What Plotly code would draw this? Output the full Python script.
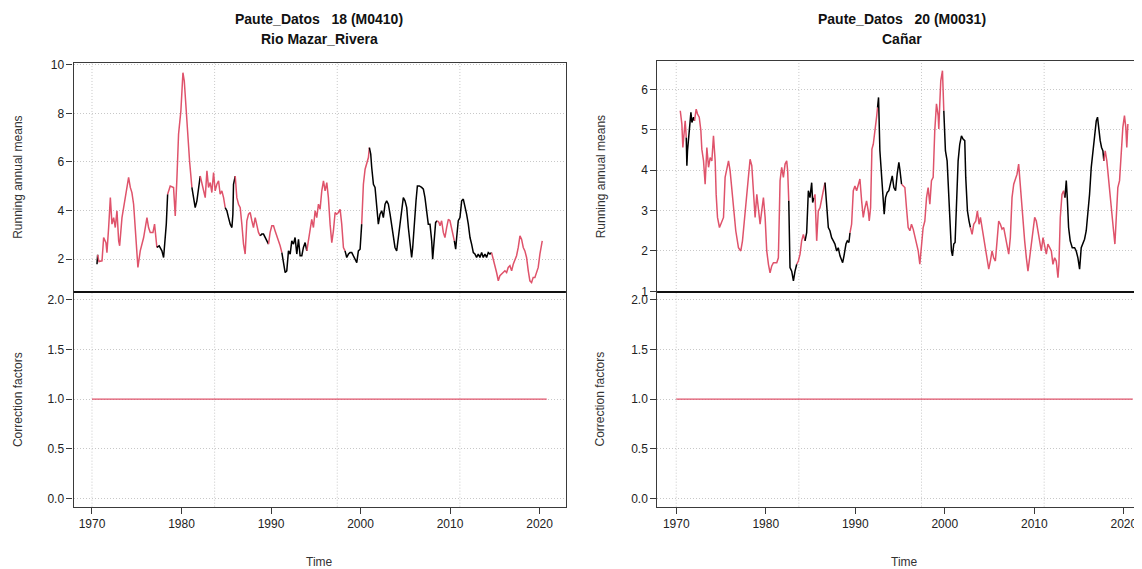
import plotly.graph_objects as go

# ---------------- data ----------------
left_years = [1970.56, 1970.63, 1970.78, 1971.12, 1971.30, 1971.56, 1971.67, 1971.86, 1972.05, 1972.23,
    1972.42, 1972.60, 1972.79, 1972.98, 1973.09, 1973.35, 1973.72, 1974.09, 1974.28, 1974.46,
    1974.65, 1974.84, 1975.13, 1975.39, 1975.77, 1976.14, 1976.32, 1976.51, 1976.81, 1976.99,
    1977.25, 1977.51, 1977.81, 1978.00, 1978.30, 1978.45, 1978.74, 1979.11, 1979.30, 1979.49,
    1979.67, 1979.93, 1980.16, 1980.31, 1980.53, 1980.68, 1980.90, 1981.16, 1981.35, 1981.53,
    1981.72, 1981.90, 1982.09, 1982.28, 1982.46, 1982.65, 1982.84, 1983.02, 1983.21, 1983.39,
    1983.58, 1983.76, 1983.95, 1984.14, 1984.32, 1984.51, 1984.70, 1984.88, 1985.07, 1985.25,
    1985.44, 1985.63, 1985.74, 1985.81, 1986.00, 1986.18, 1986.37, 1986.56, 1986.74, 1986.93,
    1987.11, 1987.30, 1987.49, 1987.67, 1987.86, 1988.04, 1988.23, 1988.42, 1988.60, 1988.79,
    1988.97, 1989.16, 1989.35, 1989.53, 1989.72, 1989.90, 1990.09, 1990.28, 1990.46, 1990.65,
    1990.83, 1991.02, 1991.21, 1991.39, 1991.58, 1991.76, 1991.95, 1992.14, 1992.32, 1992.51,
    1992.69, 1992.88, 1993.07, 1993.25, 1993.44, 1993.62, 1993.81, 1994.00, 1994.18, 1994.37,
    1994.55, 1994.74, 1994.93, 1995.11, 1995.30, 1995.48, 1995.67, 1995.86, 1996.04, 1996.23,
    1996.41, 1996.60, 1996.79, 1996.97, 1997.16, 1997.34, 1997.53, 1997.72, 1997.90, 1998.09,
    1998.27, 1998.46, 1998.65, 1998.83, 1999.02, 1999.20, 1999.39, 1999.58, 1999.76, 1999.95,
    2000.13, 2000.32, 2000.51, 2000.69, 2000.88, 2000.99, 2001.14, 2001.25, 2001.44, 2001.62,
    2001.81, 2001.99, 2002.18, 2002.37, 2002.55, 2002.74, 2002.92, 2003.11, 2003.30, 2003.48,
    2003.67, 2003.85, 2004.04, 2004.23, 2004.41, 2004.60, 2004.78, 2004.97, 2005.16, 2005.34,
    2005.53, 2005.71, 2005.83, 2005.97, 2006.20, 2006.35, 2006.57, 2006.83, 2007.02, 2007.20,
    2007.39, 2007.57, 2007.76, 2007.95, 2008.06, 2008.21, 2008.39, 2008.58, 2008.76, 2008.88,
    2009.06, 2009.25, 2009.43, 2009.62, 2009.81, 2009.99, 2010.18, 2010.36, 2010.48, 2010.63,
    2010.74, 2010.92, 2011.11, 2011.30, 2011.48, 2011.67, 2011.85, 2012.04, 2012.23, 2012.41,
    2012.60, 2012.78, 2012.97, 2013.15, 2013.34, 2013.53, 2013.71, 2013.90, 2014.08, 2014.27,
    2014.46, 2014.64, 2014.83, 2015.01, 2015.20, 2015.39, 2015.57, 2015.76, 2015.94, 2016.13,
    2016.32, 2016.50, 2016.69, 2016.88, 2017.06, 2017.25, 2017.43, 2017.62, 2017.81, 2017.99,
    2018.18, 2018.36, 2018.55, 2018.74, 2018.92, 2019.11, 2019.29, 2019.48, 2019.67, 2019.85,
    2020.04, 2020.30]
left_values = [1.79, 2.18, 1.90, 1.93, 2.89, 2.68, 2.27, 3.30, 4.53, 3.44,
    3.71, 3.30, 3.99, 2.75, 2.55, 3.71, 4.60, 5.36, 4.95, 4.74,
    4.26, 3.30, 1.66, 2.34, 2.89, 3.71, 3.30, 3.10, 3.10, 3.44,
    2.48, 2.55, 2.34, 2.07, 3.44, 4.67, 5.01, 4.95, 3.78, 5.36,
    7.14, 8.10, 9.67, 9.33, 8.10, 7.00, 6.04, 4.95, 4.53, 4.12,
    4.40, 4.81, 5.42, 5.08, 4.81, 4.53, 5.63, 4.95, 5.15, 4.74,
    5.56, 4.81, 5.08, 5.22, 4.67, 4.81, 4.53, 4.12, 3.99, 3.71,
    3.44, 3.30, 3.85, 5.08, 5.42, 4.53, 4.26, 4.12, 3.44, 2.62,
    2.21, 3.58, 3.85, 3.92, 3.58, 3.30, 3.71, 3.44, 3.10, 2.96,
    3.03, 3.03, 2.89, 2.82, 2.62, 3.10, 3.37, 3.37, 3.16, 2.96,
    2.75, 2.55, 2.27, 1.79, 1.45, 1.52, 2.34, 2.21, 2.75, 2.62,
    2.89, 2.21, 2.82, 2.14, 2.14, 2.48, 2.68, 2.34, 2.75, 3.16,
    3.64, 3.30, 3.99, 3.71, 4.26, 4.05, 4.81, 5.22, 4.81, 5.15,
    4.53, 3.44, 2.68, 3.16, 3.92, 3.85, 3.92, 4.05, 3.44, 2.48,
    2.34, 2.07, 2.21, 2.27, 2.27, 2.14, 2.00, 1.86, 2.34, 2.41,
    3.44, 5.08, 5.70, 5.90, 6.18, 6.59, 6.32, 5.77, 5.08, 4.95,
    4.12, 3.44, 3.85, 3.99, 3.71, 4.26, 4.40, 4.26, 3.85, 3.44,
    2.89, 2.48, 2.34, 2.89, 3.58, 4.12, 4.53, 4.40, 4.12, 3.30,
    2.62, 2.07, 2.48, 3.30, 4.40, 5.01, 5.01, 4.95, 4.88, 4.53,
    3.99, 3.44, 3.44, 2.75, 2.00, 2.89, 3.51, 3.58, 3.51, 3.37,
    3.58, 3.10, 2.89, 3.30, 3.64, 3.58, 3.30, 2.96, 2.75, 2.41,
    2.89, 3.58, 3.71, 4.40, 4.47, 4.19, 3.85, 3.44, 2.89, 2.62,
    2.27, 2.21, 2.07, 2.21, 2.07, 2.27, 2.07, 2.21, 2.07, 2.27,
    2.21, 2.27, 1.93, 1.73, 1.45, 1.11, 1.32, 1.38, 1.45, 1.52,
    1.45, 1.66, 1.73, 1.52, 1.79, 2.00, 2.14, 2.48, 2.96, 2.82,
    2.48, 2.34, 2.07, 1.52, 1.11, 1.04, 1.25, 1.25, 1.52, 1.66,
    2.21, 2.75]
left_black_spans = [(1970.50, 1970.70), (1977.20, 1978.40), (1981.10, 1982.00), (1984.85, 1986.00),
    (1988.70, 1989.80), (1991.20, 1994.00), (1998.35, 2000.05), (2001.05, 2008.60), (2010.45, 2014.60)]

right_years = [1970.45, 1970.63, 1970.74, 1970.89, 1971.00, 1971.12, 1971.19, 1971.26, 1971.49, 1971.64,
    1971.75, 1971.93, 1972.04, 1972.23, 1972.38, 1972.57, 1972.75, 1972.86, 1973.05, 1973.23,
    1973.42, 1973.61, 1973.79, 1973.98, 1974.16, 1974.35, 1974.46, 1974.61, 1974.83, 1975.09,
    1975.28, 1975.46, 1975.65, 1975.84, 1976.02, 1976.21, 1976.39, 1976.65, 1976.95, 1977.21,
    1977.40, 1977.58, 1977.81, 1978.07, 1978.25, 1978.44, 1978.62, 1978.81, 1979.00, 1979.18,
    1979.37, 1979.55, 1979.74, 1979.93, 1980.11, 1980.30, 1980.48, 1980.67, 1980.86, 1981.23,
    1981.41, 1981.60, 1981.78, 1981.97, 1982.16, 1982.34, 1982.45, 1982.57, 1982.71, 1982.90,
    1983.09, 1983.27, 1983.46, 1983.64, 1983.83, 1984.01, 1984.20, 1984.39, 1984.57, 1984.76,
    1984.94, 1985.13, 1985.24, 1985.39, 1985.50, 1985.69, 1985.87, 1986.06, 1986.25, 1986.43,
    1986.62, 1986.80, 1986.99, 1987.17, 1987.36, 1987.55, 1987.73, 1987.92, 1988.10, 1988.29,
    1988.48, 1988.59, 1988.74, 1988.96, 1989.11, 1989.29, 1989.41, 1989.59, 1989.78, 1989.96,
    1990.15, 1990.33, 1990.52, 1990.71, 1990.89, 1991.08, 1991.26, 1991.45, 1991.56, 1991.71,
    1991.86, 1992.01, 1992.19, 1992.38, 1992.49, 1992.60, 1992.75, 1992.94, 1993.12, 1993.23,
    1993.38, 1993.57, 1993.75, 1993.94, 1994.13, 1994.31, 1994.50, 1994.68, 1994.87, 1994.98,
    1995.17, 1995.35, 1995.54, 1995.72, 1995.91, 1996.10, 1996.28, 1996.47, 1996.65, 1996.84,
    1997.03, 1997.21, 1997.40, 1997.58, 1997.77, 1997.96, 1998.14, 1998.33, 1998.51, 1998.70,
    1998.88, 1999.07, 1999.26, 1999.33, 1999.44, 1999.55, 1999.74, 1999.89, 2000.07, 2000.26,
    2000.37, 2000.56, 2000.74, 2000.86, 2001.00, 2001.15, 2001.30, 2001.49, 2001.67, 2001.86,
    2002.04, 2002.23, 2002.34, 2002.53, 2002.71, 2002.86, 2003.05, 2003.23, 2003.46, 2003.64,
    2003.83, 2003.98, 2004.16, 2004.35, 2004.54, 2004.72, 2004.91, 2005.09, 2005.28, 2005.46,
    2005.65, 2005.84, 2006.02, 2006.21, 2006.39, 2006.58, 2006.77, 2006.95, 2007.14, 2007.32,
    2007.51, 2007.70, 2007.88, 2008.07, 2008.25, 2008.36, 2008.55, 2008.74, 2008.92, 2009.11,
    2009.29, 2009.48, 2009.67, 2009.85, 2010.04, 2010.22, 2010.41, 2010.60, 2010.78, 2010.97,
    2011.15, 2011.34, 2011.52, 2011.71, 2011.90, 2012.08, 2012.27, 2012.45, 2012.64, 2012.75,
    2012.90, 2013.09, 2013.27, 2013.42, 2013.57, 2013.68, 2013.83, 2014.01, 2014.24, 2014.50,
    2014.68, 2014.87, 2015.06, 2015.24, 2015.43, 2015.61, 2015.80, 2015.99, 2016.17, 2016.36,
    2016.54, 2016.73, 2016.92, 2017.06, 2017.21, 2017.36, 2017.51, 2017.66, 2017.77, 2017.92,
    2018.10, 2018.29, 2018.48, 2018.66, 2018.85, 2019.00, 2019.14, 2019.33, 2019.52, 2019.70,
    2019.89, 2020.07, 2020.22, 2020.33, 2020.45]
right_values = [5.47, 5.14, 4.56, 4.89, 5.22, 4.81, 4.11, 4.48, 4.98, 5.43,
    5.18, 5.31, 5.22, 5.51, 5.39, 5.31, 4.98, 4.52, 4.23, 3.65,
    4.56, 4.07, 4.31, 4.23, 4.85, 4.23, 3.40, 2.83, 2.58, 2.74,
    2.83, 3.82, 4.02, 4.23, 3.98, 3.49, 3.07, 2.50, 2.08, 2.00,
    2.25, 2.66, 3.24, 3.90, 4.27, 4.11, 3.49, 2.83, 3.40, 3.07,
    2.66, 2.99, 3.32, 2.83, 2.00, 1.67, 1.46, 1.63, 1.71, 1.71,
    1.83, 3.74, 4.07, 3.82, 4.15, 4.23, 3.98, 3.24, 1.59, 1.50,
    1.26, 1.50, 1.67, 1.75, 1.92, 2.25, 2.41, 2.25, 2.45, 3.49,
    3.32, 3.69, 3.20, 3.32, 3.40, 2.25, 2.99, 3.07, 3.32, 3.49,
    3.69, 2.99, 2.58, 2.50, 2.33, 2.25, 2.17, 2.00, 2.08, 1.88,
    1.79, 1.71, 1.88, 2.17, 2.25, 2.21, 2.45, 2.66, 3.49, 3.61,
    3.49, 3.65, 3.78, 3.24, 2.83, 3.07, 3.24, 2.99, 2.74, 3.07,
    4.52, 4.64, 5.06, 5.31, 5.55, 5.80, 4.48, 3.82, 3.24, 2.91,
    3.32, 3.45, 3.49, 3.69, 3.86, 3.57, 3.49, 3.90, 4.19, 4.02,
    3.65, 3.61, 3.57, 3.07, 2.58, 2.50, 2.66, 2.54, 2.37, 2.25,
    2.00, 1.67, 2.17, 2.58, 2.74, 3.32, 3.57, 3.16, 3.74, 3.82,
    4.98, 5.64, 5.35, 5.02, 5.64, 6.21, 6.46, 5.47, 4.48, 4.23,
    3.65, 2.66, 2.00, 1.88, 2.17, 2.21, 3.16, 4.23, 4.64, 4.85,
    4.77, 4.73, 3.82, 2.99, 2.74, 2.58, 2.41, 2.66, 2.74, 2.99,
    2.66, 2.83, 2.58, 2.25, 2.00, 1.75, 1.55, 1.75, 2.00, 1.83,
    1.75, 2.25, 2.74, 2.66, 2.54, 2.58, 2.33, 2.17, 1.92, 2.33,
    3.32, 3.65, 3.78, 3.90, 4.15, 3.82, 3.24, 2.58, 2.25, 1.83,
    1.50, 1.83, 2.17, 2.50, 2.83, 2.74, 2.50, 2.25, 2.00, 2.33,
    2.08, 1.92, 2.17, 2.08, 2.00, 1.67, 1.83, 1.75, 1.34, 1.67,
    2.83, 3.40, 3.49, 3.32, 3.74, 3.32, 2.58, 2.25, 2.08, 2.08,
    2.00, 1.83, 1.55, 2.08, 2.21, 2.29, 2.50, 2.91, 3.40, 4.07,
    4.48, 4.89, 5.22, 5.31, 4.98, 4.73, 4.56, 4.48, 4.23, 4.48,
    4.23, 3.74, 3.32, 2.99, 2.50, 2.17, 2.66, 3.57, 3.74, 4.40,
    5.06, 5.35, 5.06, 4.56, 5.14]
right_black_spans = [(1971.10, 1972.05), (1982.60, 1983.50), (1984.30, 1985.40), (1986.60, 1989.45),
    (1992.50, 1995.20), (1999.85, 2002.80), (2013.35, 2017.80)]

left_cf_years = [1970.0, 2020.8]
left_cf_values = [1.0, 1.0]
right_cf_years = [1970.0, 2021.0]
right_cf_values = [1.0, 1.0]

x_ticks = [1970, 1980, 1990, 2000, 2010, 2020]
x_grid = [1970.0, 1983.7, 1997.4, 2011.1]
left_top_ticks = [2, 4, 6, 8, 10]
right_top_ticks = [1, 2, 3, 4, 5, 6]
cf_ticks = [0.0, 0.5, 1.0, 1.5, 2.0]

RED = "#DF536B"
BLACK = "#000000"
W, H = 1142, 569
XOFF = 8          # horizontal page offset
YA, YB = 12.3, 0.978  # observed vertical placement of the figure in the captured page


def px(xw):
    return (xw - XOFF) / W


def py(yw):
    return 1 - ((yw - YA) / YB) / H


def runs(xs, ys, spans):
    def is_black(t):
        return any(a <= t <= b for a, b in spans)
    out = []
    cur_c, cx, cy = None, [], []
    for i in range(len(xs) - 1):
        c = BLACK if is_black((xs[i] + xs[i + 1]) / 2) else RED
        if c != cur_c:
            if cur_c is not None:
                out.append((cur_c, cx, cy))
            cur_c, cx, cy = c, [xs[i]], [ys[i]]
        cx.append(xs[i + 1])
        cy.append(ys[i + 1])
    out.append((cur_c, cx, cy))
    return out


fig = go.Figure()
for xs, ys, spans, xa, ya in [(left_years, left_values, left_black_spans, "x", "y"),
                              (right_years, right_values, right_black_spans, "x3", "y3")]:
    for c, cx, cy in runs(xs, ys, spans):
        fig.add_trace(go.Scatter(x=cx, y=cy, mode="lines", line=dict(color=c, width=1.5),
                                 xaxis=xa, yaxis=ya, showlegend=False, hoverinfo="skip"))

fig.add_trace(go.Scatter(x=left_cf_years, y=left_cf_values, mode="lines", line=dict(color=RED, width=1.1),
                         xaxis="x2", yaxis="y2", showlegend=False, hoverinfo="skip"))
fig.add_trace(go.Scatter(x=right_cf_years, y=right_cf_values, mode="lines", line=dict(color=RED, width=1.1),
                         xaxis="x4", yaxis="y4", showlegend=False, hoverinfo="skip"))

FONT = "Liberation Sans, Arial, sans-serif"
TICKFONT = dict(family=FONT, size=12, color="#222")
LINE = dict(showline=True, mirror=True, linecolor="#3a3a3a", linewidth=1.3, zeroline=False)
GRIDC = "#c8c8c8"
GDASH = "1px,2px"

lx = [px(73.7), px(566)]
rx = [px(658), 1.0]
r_end = 1967.9 + ((W + XOFF) - 658) / 8.96
top_l = [py(291), py(62.5)]
top_r = [py(291), py(60.7)]
bot = [py(505.5), py(291)]
lrange = [1967.95, 2022.9]
rrange = [1967.9, r_end]

YCOMMON = dict(ticks="outside", ticklen=6, tickcolor="#3a3a3a", tickfont=TICKFONT, showgrid=True,
               gridcolor=GRIDC, griddash=GDASH, gridwidth=1)

fig.update_layout(
    width=W, height=H, margin=dict(l=0, r=0, t=0, b=0),
    plot_bgcolor="white", paper_bgcolor="white",
    xaxis=dict(domain=lx, range=lrange, anchor="y", showticklabels=False, ticks="", showgrid=False, **LINE),
    xaxis2=dict(domain=lx, range=lrange, anchor="y2", tickvals=x_ticks, ticks="outside", ticklen=6,
                tickcolor="#3a3a3a", tickfont=TICKFONT, showgrid=False, **LINE),
    xaxis3=dict(domain=rx, range=rrange, anchor="y3", showticklabels=False, ticks="", showgrid=False, **LINE),
    xaxis4=dict(domain=rx, range=rrange, anchor="y4", tickvals=x_ticks, ticks="outside", ticklen=6,
                tickcolor="#3a3a3a", tickfont=TICKFONT, showgrid=False, **LINE),
    yaxis=dict(domain=top_l, range=[0.65, 10.06], anchor="x", tickvals=left_top_ticks, **YCOMMON, **LINE),
    yaxis2=dict(domain=bot, range=[-0.083, 2.08], anchor="x2", tickvals=cf_ticks, tickformat=".1f",
                **YCOMMON, **LINE),
    yaxis3=dict(domain=top_r, range=[0.985, 6.69], anchor="x3", tickvals=right_top_ticks, **YCOMMON, **LINE),
    yaxis4=dict(domain=bot, range=[-0.083, 2.08], anchor="x4", tickvals=cf_ticks, tickformat=".1f",
                **YCOMMON, **LINE),
)

shapes = []
for xa, ya in [("x", "y"), ("x2", "y2"), ("x3", "y3"), ("x4", "y4")]:
    for g in x_grid:
        shapes.append(dict(type="line", xref=xa, yref=ya + " domain", x0=g, x1=g, y0=0, y1=1,
                           line=dict(color=GRIDC, width=1, dash=GDASH), layer="below"))
for xd in (lx, rx):
    shapes.append(dict(type="line", xref="paper", yref="paper", x0=xd[0], x1=xd[1],
                       y0=py(291), y1=py(291), line=dict(color="#111", width=2)))
fig.update_layout(shapes=shapes)

ann = []
TF = dict(family=FONT, size=14, color="#111")
for cx, l1, l2 in [(px(319.5), "Paute_Datos\u00a0\u00a0\u00a018 (M0410)", "Rio Mazar_Rivera"),
                   (px(903), "Paute_Datos\u00a0\u00a0\u00a020 (M0031)", "Cañar")]:
    ann.append(dict(x=cx, y=py(18), xref="paper", yref="paper", text="<b>" + l1 + "</b>",
                    showarrow=False, xanchor="center", yanchor="middle", font=TF))
    ann.append(dict(x=cx, y=py(38), xref="paper", yref="paper", text="<b>" + l2 + "</b>",
                    showarrow=False, xanchor="center", yanchor="middle", font=TF))
LF = dict(family=FONT, size=12, color="#333")
for ax_x, tx in [(18, 320), (601, 905)]:
    ann.append(dict(x=px(ax_x), y=py(176), xref="paper", yref="paper", text="Running annual means",
                    textangle=-90, showarrow=False, xanchor="center", yanchor="middle", font=LF))
    ann.append(dict(x=px(ax_x), y=py(398), xref="paper", yref="paper", text="Correction factors",
                    textangle=-90, showarrow=False, xanchor="center", yanchor="middle", font=LF))
    ann.append(dict(x=px(tx), y=py(561), xref="paper", yref="paper", text="Time",
                    showarrow=False, xanchor="center", yanchor="middle", font=LF))
fig.update_layout(annotations=ann)

fig.write_html("out.html")
